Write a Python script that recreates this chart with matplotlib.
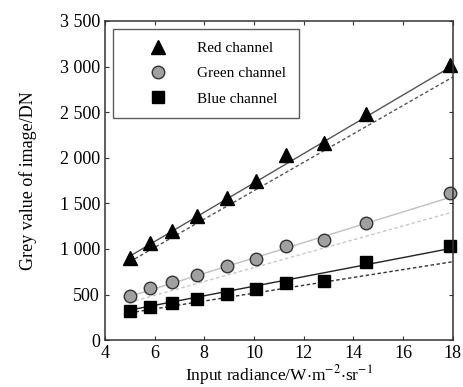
import numpy as np
import matplotlib
matplotlib.use("Agg")
import matplotlib.pyplot as plt
from matplotlib.ticker import FuncFormatter

plt.rcParams['font.family'] = ['Liberation Serif', 'DejaVu Serif']
plt.rcParams['mathtext.fontset'] = 'stix'

# radiance of each measurement
radiance = [5.0, 5.8, 6.7, 7.7, 8.9, 10.1, 11.3, 12.8, 14.5, 17.9]
red_dn = [900, 1065, 1195, 1360, 1560, 1740, 2025, 2160, 2475, 3015]
green_dn = [480, 570, 635, 710, 815, 890, 1030, 1100, 1280, 1610]
blue_dn = [320, 365, 410, 455, 510, 560, 630, 650, 860, 1030]

# fitted lines (solid) and reference lines (dashed), end points
fit_x = [5.0, 18.0]
red_fit = [920, 3010]
red_ref = [860, 2885]
green_fit = [480, 1575]
green_ref = [415, 1405]
blue_fit = [330, 1010]
blue_ref = [300, 860]

fig = plt.figure(figsize=(4.64, 3.87), dpi=100)
ax = fig.add_axes([0.226, 0.121, 0.750, 0.825])

ax.plot(fit_x, red_fit, '-', color='#555555', lw=1.0)
ax.plot(fit_x, red_ref, '--', color='#555555', lw=1.0, dashes=(2.5, 1.8))
ax.plot(fit_x, green_fit, '-', color='#c0c0c0', lw=1.0)
ax.plot(fit_x, green_ref, '--', color='#c8c8c8', lw=1.0, dashes=(2.5, 1.8))
ax.plot(fit_x, blue_fit, '-', color='#222222', lw=1.0)
ax.plot(fit_x, blue_ref, '--', color='#333333', lw=1.0, dashes=(2.5, 1.8))

ax.plot(radiance, red_dn, '^', color='black', ms=10, mec='black',
        ls='none', label='Red channel', clip_on=False)
ax.plot(radiance, green_dn, 'o', color='#a0a0a0', ms=9, mec='#333333',
        mew=1.0, ls='none', label='Green channel', clip_on=False)
ax.plot(radiance, blue_dn, 's', color='black', ms=9, mec='black',
        ls='none', label='Blue channel', clip_on=False)

ax.set_xlim(4, 18)
ax.set_ylim(0, 3500)
ax.set_xticks(np.arange(4, 19, 2))
ax.set_yticks(np.arange(0, 3501, 500))
ax.yaxis.set_major_formatter(FuncFormatter(lambda v, p: f"{int(v):,}".replace(',', ' ')))
ax.tick_params(direction='in', top=True, right=True, labelsize=13, length=3,
               width=0.8, color='#333333')
for s in ax.spines.values():
    s.set_linewidth(1.1)
    s.set_color('#333333')

ax.set_xlabel(r'Input radiance/W$\cdot$m$^{-2}$$\cdot$sr$^{-1}$', fontsize=12.5,
              labelpad=1)
ax.set_ylabel('Grey value of image/DN', fontsize=13, labelpad=16)

leg = ax.legend(loc='upper left', fontsize=11, frameon=True, fancybox=False,
                edgecolor='#333333', borderpad=0.8, labelspacing=0.75,
                handletextpad=0.5, borderaxespad=0.55, handlelength=4.2)
leg.get_frame().set_linewidth(1.0)

fig.savefig('out.png', dpi=100)
